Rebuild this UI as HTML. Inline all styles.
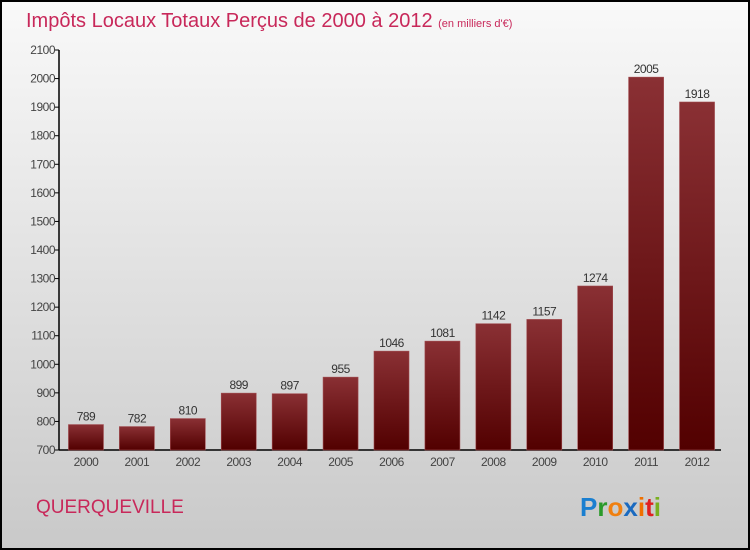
<!DOCTYPE html>
<html><head><meta charset="utf-8"><style>
html,body{margin:0;padding:0}
body{width:750px;height:550px;overflow:hidden}
#wrap{position:relative;width:746px;height:546px;border:2px solid #000;background:linear-gradient(#f9f9f9,#c9c9c9);}
svg{position:absolute;left:-2px;top:-2px}
text{font-family:"Liberation Sans",sans-serif}
</style></head><body>
<div id="wrap">
<svg id="chart" width="750" height="550">
<defs><linearGradient id="bg" x1="0" y1="0" x2="0" y2="1"><stop offset="0" stop-color="#8a3034"/><stop offset="1" stop-color="#520000"/></linearGradient></defs>
<text x="26" y="27" font-size="20" fill="#c8285a">Impôts Locaux Totaux Perçus de 2000 à 2012 <tspan font-size="11">(en milliers d'€)</tspan></text>
<text x="36" y="513" font-size="19" fill="#c8285a">QUERQUEVILLE</text>
<text x="580" y="516" font-size="26" font-weight="bold"><tspan fill="#1a7fd0">P</tspan><tspan fill="#2a9a2a">r</tspan><tspan fill="#f08010">o</tspan><tspan fill="#1a6ac0">x</tspan><tspan fill="#f07000">i</tspan><tspan fill="#e02020">t</tspan><tspan fill="#7ab020">i</tspan></text>
</svg></div>
<script>
const years=["2000","2001","2002","2003","2004","2005","2006","2007","2008","2009","2010","2011","2012"];
const values=[789,782,810,899,897,955,1046,1081,1142,1157,1274,2005,1918];
const yTicks=[700,800,900,1000,1100,1200,1300,1400,1500,1600,1700,1800,1900,2000,2100];
const svg=document.getElementById('chart');const NS='http://www.w3.org/2000/svg';
const x0=59,x1=721,y0=450,y1=50,ymin=700,ymax=2100;
const ys=v=>y0-(v-ymin)/(ymax-ymin)*(y0-y1);
const step=(x1-x0)/years.length;
const xc=i=>x0+step*(i+0.5)+1.5;
function mk(t,a){const e=document.createElementNS(NS,t);for(const k in a)e.setAttribute(k,a[k]);svg.appendChild(e);return e;}
let ax=mk('line',{x1:x0,y1:y1,x2:x0,y2:y0,stroke:'#000','stroke-width':1.5});


let bx=mk('line',{x1:x0,y1:y0,x2:x1,y2:y0,stroke:'#000','stroke-width':1.5});


yTicks.forEach(v=>{const y=ys(v);mk('line',{x1:x0-4,y1:y,x2:x0,y2:y,stroke:'#000'});
const t=mk('text',{x:x0-4,y:y+4,'font-size':12,fill:'#444','text-anchor':'end','letter-spacing':'-0.5'});t.textContent=v;

});
values.forEach((v,i)=>{const c=xc(i),w=35;
const r=mk('rect',{x:c-w/2,y:ys(v),width:w,height:y0-ys(v),fill:'url(#bg)',stroke:'#a04a4e','stroke-width':0.6});


const t=mk('text',{x:c,y:ys(v)-4,'font-size':12,fill:'#333','text-anchor':'middle','letter-spacing':'-0.5'});t.textContent=v;


const l=mk('text',{x:c,y:466,'font-size':12,fill:'#444','text-anchor':'middle','letter-spacing':'-0.5'});l.textContent=years[i];

});
</script>
</body></html>
